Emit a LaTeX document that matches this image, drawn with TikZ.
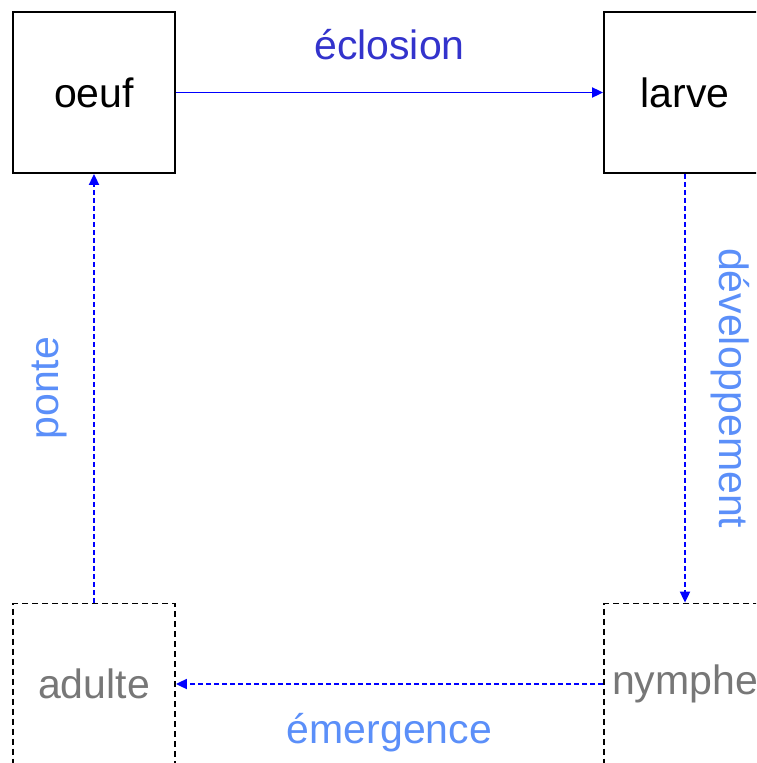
\documentclass[tikz,border=0pt]{standalone}
\usepackage{fontspec}
\setmainfont{Liberation Sans}
\usetikzlibrary{arrows.meta}
\definecolor{lineblue}{HTML}{0000FF}
\definecolor{darklbl}{HTML}{3333CC}
\definecolor{lightlbl}{HTML}{5B8FF9}
\definecolor{graytxt}{HTML}{777777}
\tikzset{
  stagebox/.style={draw=black, line width=1.8pt, minimum width=162pt, minimum height=161pt, inner sep=0pt, font=\fontsize{41}{49}\selectfont},
  futurebox/.style={stagebox, dash pattern=on 6pt off 4pt, text=graytxt},
  flow/.style={lineblue, line width=1.8pt, -{Triangle[length=11pt,width=10pt]}},
  flowdash/.style={flow, dash pattern=on 5pt off 3pt},
  lbl/.style={inner sep=0pt, font=\fontsize{41}{49}\selectfont}
}
\begin{document}
\begin{tikzpicture}[x=1pt,y=-1pt]
\useasboundingbox (0,0) rectangle (756,763);
\clip (0,0) rectangle (756,763);
\node[stagebox] (oeuf) at (94,92.5) {oeuf};
\node[stagebox] (larve) at (685,92.5) {larve};
\node[futurebox] (adulte) at (94,684) {adulte};
\node[futurebox] (nymphe) at (685,684) {nymphe};
\draw[flow] (oeuf) -- (larve) node[lbl, midway, yshift=48pt, text=darklbl] {éclosion};
\draw[flowdash] (larve) -- (nymphe) node[lbl, midway, xshift=45pt, rotate=-90, text=lightlbl] {développement};
\draw[flowdash] (nymphe) -- (adulte) node[lbl, midway, yshift=-49pt, text=lightlbl] {émergence};
\draw[flowdash] (adulte) -- (oeuf) node[lbl, midway, xshift=-44pt, rotate=90, text=lightlbl] {ponte};
\end{tikzpicture}
\end{document}
